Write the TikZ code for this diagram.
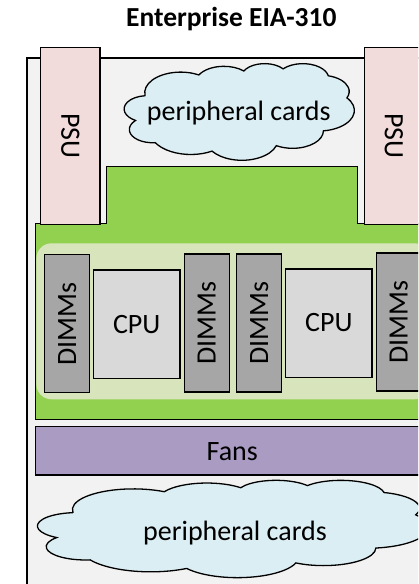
\documentclass[tikz,border=0pt]{standalone}
\usepackage{fontspec}
\setmainfont{Carlito}

\definecolor{chassis}{HTML}{F2F2F2}
\definecolor{psu}{HTML}{F2DCDB}
\definecolor{board}{HTML}{92D050}
\definecolor{socket}{HTML}{D8E4BC}
\definecolor{dimm}{HTML}{A6A6A6}
\definecolor{cpu}{HTML}{D9D9D9}
\definecolor{fans}{HTML}{A99BC1}
\definecolor{cloudfill}{HTML}{DAEEF3}

% Cloud outline built from eleven elliptic arcs in a 4320 x 4320 frame.
% Start and sweep are given as visual angles; they are turned into the
% ellipse parameters that TikZ arcs expect.
\newcommand\cloudarc[5]{%
  \pgfmathsetmacro\cldA{atan2((#2)*sin(#4),(#3)*cos(#4))}%
  \pgfmathsetmacro\cldB{atan2((#2)*sin((#4)+(#5)),(#3)*cos((#4)+(#5)))}%
  \pgfmathsetmacro\cldD{\cldB-\cldA}%
  \pgfmathsetmacro\cldD{\cldD<0 ? \cldD+360 : \cldD}%
  \expandafter\xdef\csname cloudS#1\endcsname{\cldA}%
  \expandafter\xdef\csname cloudD#1\endcsname{\cldD}%
}
\cloudarc{a}{675.3}{919.0}{-190.4875}{123.7805}
\cloudarc{b}{533.3}{726.7}{-144.1024}{89.9452}
\cloudarc{c}{436.5}{594.5}{-145.8079}{99.7230}
\cloudarc{d}{485.7}{659.5}{-130.9861}{117.2417}
\cloudarc{e}{533.3}{727.3}{-78.7089}{109.0269}
\cloudarc{f}{677.5}{922.0}{-46.2673}{130.2690}
\cloudarc{g}{578.5}{786.7}{0.6250}{114.0333}
\cloudarc{h}{675.2}{921.5}{22.4516}{115.1726}
\cloudarc{i}{772.0}{1054.3}{66.2426}{75.7110}
\cloudarc{j}{436.0}{591.8}{-274.9421}{146.7356}
\cloudarc{k}{434.5}{594.5}{-246.8285}{152.5189}

% #1 style, #2 left, #3 top, #4 width, #5 height
\newcommand\cloudoutline[5]{%
  \begin{scope}[shift={(#2,#3)}, xscale=#4/4320, yscale=-#5/4320]
    \path[#1] (390pt,1437pt)
      arc[start angle=\cloudSa, delta angle=\cloudDa, x radius=675.3pt, y radius=919.0pt]
      arc[start angle=\cloudSb, delta angle=\cloudDb, x radius=533.3pt, y radius=726.7pt]
      arc[start angle=\cloudSc, delta angle=\cloudDc, x radius=436.5pt, y radius=594.5pt]
      arc[start angle=\cloudSd, delta angle=\cloudDd, x radius=485.7pt, y radius=659.5pt]
      arc[start angle=\cloudSe, delta angle=\cloudDe, x radius=533.3pt, y radius=727.3pt]
      arc[start angle=\cloudSf, delta angle=\cloudDf, x radius=677.5pt, y radius=922.0pt]
      arc[start angle=\cloudSg, delta angle=\cloudDg, x radius=578.5pt, y radius=786.7pt]
      arc[start angle=\cloudSh, delta angle=\cloudDh, x radius=675.2pt, y radius=921.5pt]
      arc[start angle=\cloudSi, delta angle=\cloudDi, x radius=772.0pt, y radius=1054.3pt]
      arc[start angle=\cloudSj, delta angle=\cloudDj, x radius=436.0pt, y radius=591.8pt]
      arc[start angle=\cloudSk, delta angle=\cloudDk, x radius=434.5pt, y radius=594.5pt]
      -- cycle;
  \end{scope}}

\begin{document}
\begin{tikzpicture}[x=1pt, y=-1pt, line width=1.3pt, line join=miter,
  txt/.style={font=\fontsize{28}{34}\selectfont, text=black},
  part/.style={draw=black, inner sep=0pt, outer sep=0pt, txt},
  psubox/.style={part, fill=psu, rotate=-90, minimum width=177, minimum height=59.3},
  dimmbox/.style={part, fill=dimm, rotate=90, minimum width=138, minimum height=45},
  cpubox/.style={part, fill=cpu, minimum width=86.5, minimum height=108.3},
  fanbox/.style={part, fill=fans, minimum width=394.6, minimum height=48.3},
  cloudshape/.style={draw=black, fill=cloudfill},
  title/.style={font=\fontsize{27.5}{33}\selectfont\bfseries, text=black}]

\useasboundingbox (0,0) rectangle (418,584);
\clip (0,0) rectangle (418,584);

% title
\node[title, anchor=base] (title) at (231.3,26.7) {Enterprise EIA-310};

% chassis outline
\draw[fill=chassis] (27,58) rectangle (439,620);

% upper peripheral cards
\cloudoutline{cloudshape}{124.3}{63.3}{230}{96.7}
\node[txt, anchor=base] (pcTop) at (238.7,120.7) {peripheral cards};

% main board with its raised middle part
\draw[fill=board] (35.7,223.3) -- (106.7,223.3) -- (106.7,166.7)
  -- (357.7,166.7) -- (357.7,223.3) -- (430.3,223.3)
  -- (430.3,419.3) -- (35.7,419.3) -- cycle;

% socket area
\fill[socket, rounded corners=15pt] (36.4,243.3) rectangle (429.6,399.3);

% memory and processors
\node[dimmbox] (dimmA) at (67.2,323.8) {DIMMs};
\node[cpubox]  (cpuA)  at (136.7,324.1) {CPU};
\node[dimmbox] (dimmB) at (206.8,323.0) {DIMMs};
\node[dimmbox] (dimmC) at (259.2,323.0) {DIMMs};
\node[cpubox]  (cpuB)  at (328.8,323.0) {CPU};
\node[dimmbox] (dimmD) at (398.8,321.9) {DIMMs};

% power supplies
\node[psubox] (psuA) at (70.35,136.0) {PSU};
\node[psubox] (psuB) at (393.95,136.1) {PSU};

% fans
\node[fanbox] (fanrow) at (233,450.85) {};
\node[txt, anchor=base] (fanlabel) at (232.3,460.7) {Fans};

% lower peripheral cards
\cloudoutline{cloudshape}{37.7}{480}{390.6}{97.3}
\node[txt, anchor=base] (pcBottom) at (235,540) {peripheral cards};
\end{tikzpicture}
\end{document}
